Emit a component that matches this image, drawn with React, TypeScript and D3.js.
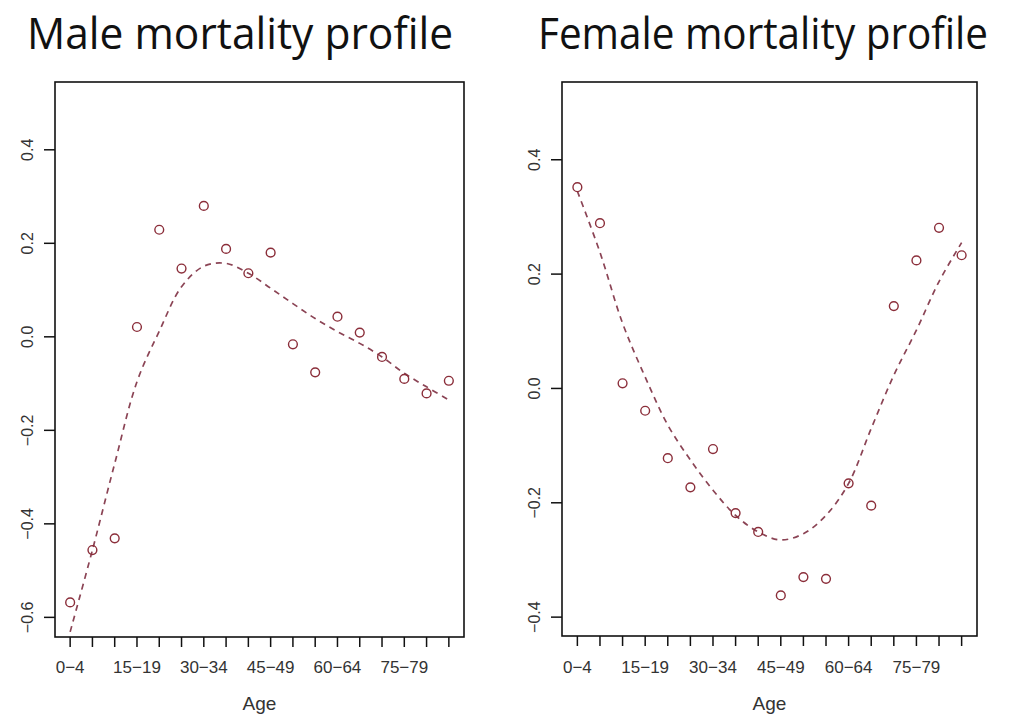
import React from 'react';
import * as d3 from 'd3';

const ageGroups = [
  '0−4', '5−9', '10−14', '15−19', '20−24', '25−29', '30−34', '35−39', '40−44',
  '45−49', '50−54', '55−59', '60−64', '65−69', '70−74', '75−79', '80−84', '85+',
];
const shownLabels = [0, 3, 6, 9, 12, 15];

const maleObserved = [
  -0.568, -0.456, -0.431, 0.021, 0.229, 0.146, 0.28, 0.188, 0.136,
  0.18, -0.016, -0.076, 0.043, 0.009, -0.043, -0.09, -0.121, -0.094,
];
const maleSmooth = [
  -0.631, -0.456, -0.271, -0.096, 0.012, 0.107, 0.151, 0.157, 0.136,
  0.104, 0.071, 0.039, 0.011, -0.014, -0.043, -0.078, -0.107, -0.135,
];
const maleTicks = [-0.6, -0.4, -0.2, 0.0, 0.2, 0.4];

const femaleObserved = [
  0.352, 0.289, 0.009, -0.039, -0.122, -0.173, -0.106, -0.218, -0.251,
  -0.362, -0.33, -0.333, -0.166, -0.205, 0.144, 0.224, 0.281, 0.233,
];
const femaleSmooth = [
  0.345, 0.238, 0.114, 0.02, -0.064, -0.125, -0.178, -0.222, -0.251,
  -0.265, -0.254, -0.222, -0.166, -0.07, 0.023, 0.102, 0.187, 0.255,
];
const femaleTicks = [-0.4, -0.2, 0.0, 0.2, 0.4];

const pointColor = '#8b2e3a';
const lineColor = '#8b4455';
const labelColor = '#333';

interface PanelProps {
  title: string;
  titleEnd: number;
  titleWidth: number;
  left: number;
  right: number;
  top: number;
  bottom: number;
  yDomain: [number, number];
  yTicks: number[];
  observed: number[];
  smooth: number[];
}

const Panel: React.FC<PanelProps> = ({
  title, titleEnd, titleWidth, left, right, top, bottom, yDomain, yTicks, observed, smooth,
}) => {
  // R pads the x range by 4% on both sides
  const x = d3.scaleLinear().domain([-0.68, ageGroups.length - 1 + 0.68]).range([left, right]);
  const y = d3.scaleLinear().domain(yDomain).range([bottom, top]);

  const line = d3.line<number>()
    .x((_, i) => x(i))
    .y(d => y(d))
    .curve(d3.curveCatmullRom.alpha(0.5));

  const cx = (left + right) / 2;

  return (
    <g>
      {/* slide title: narrow face stretched tall, like the Calibri original */}
      <text
        transform={`translate(${titleEnd},49) scale(1,1.2)`}
        textAnchor="end"
        fontFamily="'Open Sans', 'Noto Sans', sans-serif"
        fontSize={36}
        fill="#111"
        textLength={titleWidth}
        lengthAdjust="spacingAndGlyphs"
      >
        {title}
      </text>

      <rect x={left} y={top} width={right - left} height={bottom - top}
        fill="none" stroke="#111" strokeWidth={1.6} />

      {yTicks.map(t => (
        <g key={t}>
          <line x1={left - 11} x2={left} y1={y(t)} y2={y(t)} stroke="#111" strokeWidth={1.5} />
          <text
            transform={`translate(${left - 26},${y(t)}) rotate(-90)`}
            textAnchor="middle"
            dominantBaseline="middle"
            fontFamily="'Liberation Sans', Arial, sans-serif"
            fontSize={16}
            fill={labelColor}
          >
            {t.toFixed(1).replace('-', '−')}
          </text>
        </g>
      ))}

      {ageGroups.map((g, i) => (
        <line key={g} x1={x(i)} x2={x(i)} y1={bottom} y2={bottom + 10}
          stroke="#111" strokeWidth={1.5} />
      ))}
      {shownLabels.map(i => (
        <text
          key={i}
          x={x(i)}
          y={673}
          textAnchor="middle"
          fontFamily="'Liberation Sans', Arial, sans-serif"
          fontSize={17}
          fill={labelColor}
        >
          {ageGroups[i]}
        </text>
      ))}
      <text
        x={cx}
        y={710}
        textAnchor="middle"
        fontFamily="'Liberation Sans', Arial, sans-serif"
        fontSize={19}
        fill={labelColor}
      >
        Age
      </text>

      <path d={line(smooth) ?? ''} fill="none" stroke={lineColor}
        strokeWidth={1.7} strokeDasharray="6,5" />

      {observed.map((v, i) => (
        <circle key={i} cx={x(i)} cy={y(v)} r={4.4} fill="none"
          stroke={pointColor} strokeWidth={1.4} />
      ))}
    </g>
  );
};

export default function App() {
  return (
    <svg
      width={1011}
      height={715}
      style={{ position: 'absolute', left: 0, top: 0, background: '#fff' }}
    >
      <Panel
        title="Male mortality profile"
        titleEnd={453}
        titleWidth={426}
        left={55}
        right={464}
        top={82}
        bottom={637}
        yDomain={[-0.642, 0.545]}
        yTicks={maleTicks}
        observed={maleObserved}
        smooth={maleSmooth}
      />
      <Panel
        title="Female mortality profile"
        titleEnd={988}
        titleWidth={450}
        left={562}
        right={977}
        top={82}
        bottom={636}
        yDomain={[-0.433, 0.536]}
        yTicks={femaleTicks}
        observed={femaleObserved}
        smooth={femaleSmooth}
      />
    </svg>
  );
}
